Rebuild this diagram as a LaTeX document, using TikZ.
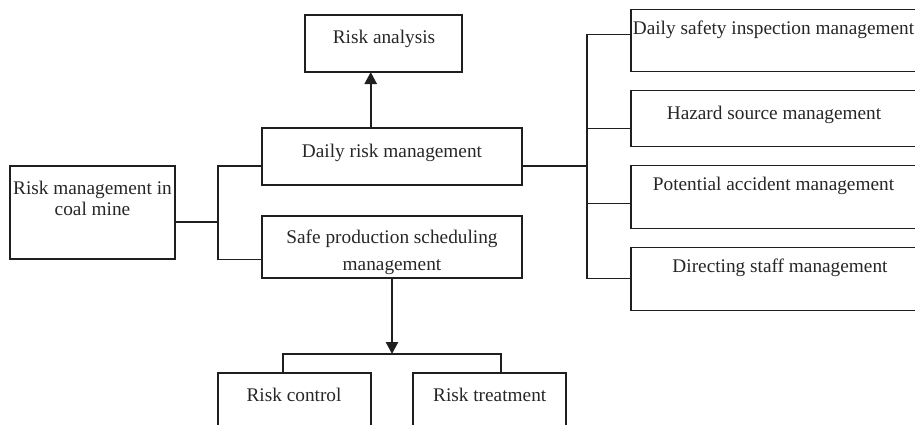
\documentclass[tikz,border=0pt]{standalone}
\usepackage{fontspec}
\setmainfont{Liberation Serif}
\usetikzlibrary{arrows.meta}
\begin{document}
\begin{tikzpicture}[x=1pt,y=-1pt,
  box/.style={draw=black!88, line width=1.5pt, inner sep=0pt, outer sep=0pt},
  lbl/.style={inner sep=0pt, anchor=base, align=center, text=black!85,
    font=\fontsize{19.3}{21}\selectfont},
  link/.style={draw=black!88, line width=1.5pt},
  arr/.style={draw=black!88, line width=2.4pt, -{Triangle[length=12pt,width=12pt]}}]
\useasboundingbox (0,0) rectangle (915,424);
\clip (0,0) rectangle (915,424);
% boxes
\node[box, minimum width=165pt, minimum height=93pt] (mine) at (92.5,212.5) {};
\node[box, minimum width=157pt, minimum height=57pt] (ana) at (383.5,43.5) {};
\node[box, minimum width=260pt, minimum height=57pt] (drm) at (392,156.5) {};
\node[box, minimum width=260pt, minimum height=62pt] (sps) at (392,247) {};
\node[box, minimum width=400pt, minimum height=62pt] (r1) at (831,40.7) {};
\node[box, minimum width=400pt, minimum height=56pt] (r2) at (831,118.7) {};
\node[box, minimum width=400pt, minimum height=62.6pt] (r3) at (831,197) {};
\node[box, minimum width=400pt, minimum height=63pt] (r4) at (831,279.2) {};
\node[box, minimum width=153pt, minimum height=87pt] (ctrl) at (294.5,416.5) {};
\node[box, minimum width=153pt, minimum height=87pt] (trt) at (489.5,416.5) {};
% texts
\node[lbl] (tmine) at (92.5,215.7) {Risk management in\\coal mine};
\node[lbl] (tana) at (384,43) {Risk analysis};
\node[lbl] (tdrm) at (392,157) {Daily risk management};
\node[lbl, font=\fontsize{19.3}{27}\selectfont] (tsps) at (392,270) {Safe production scheduling\\management};
\node[lbl] (tr1) at (773.5,34.4) {Daily safety inspection management};
\node[lbl] (tr2) at (774,119) {Hazard source management};
\node[lbl] (tr3) at (773.5,190) {Potential accident management};
\node[lbl] (tr4) at (780,272.7) {Directing staff management};
\node[lbl] (tctrl) at (294,401) {Risk control};
\node[lbl] (ttrt) at (489.7,401) {Risk treatment};
% junction coordinates
\coordinate (jL) at (218,222);
\coordinate (t1) at (218,166);
\coordinate (t2) at (218,259.5);
\coordinate (r0) at (587,166);
\coordinate (rt) at (587,34.3);
\coordinate (c2) at (587,128.3);
\coordinate (c3) at (587,203.3);
\coordinate (rb) at (587,278.3);
\coordinate (aup) at (370.7,0);
\coordinate (bar) at (392,354);
\coordinate (bl) at (283,0);
\coordinate (br) at (501,0);
% connectors
\draw[link] (mine.east |- jL) -- (jL);
\draw[link] (drm.west |- t1) -| (t2) -- (sps.west |- t2);
\draw[link] (drm.east |- r0) -- (r0);
\draw[link] (r1.west |- rt) -| (rb) -- (r4.west |- rb);
\draw[link] (c2) -- (r2.west |- c2);
\draw[link] (c3) -- (r3.west |- c3);
\draw[arr] (drm.north -| aup) -- (ana.south -| aup);
\draw[arr] (sps.south) -- (bar);
\draw[link] (ctrl.north -| bl) |- (bar) -| (trt.north -| br);
\end{tikzpicture}
\end{document}
